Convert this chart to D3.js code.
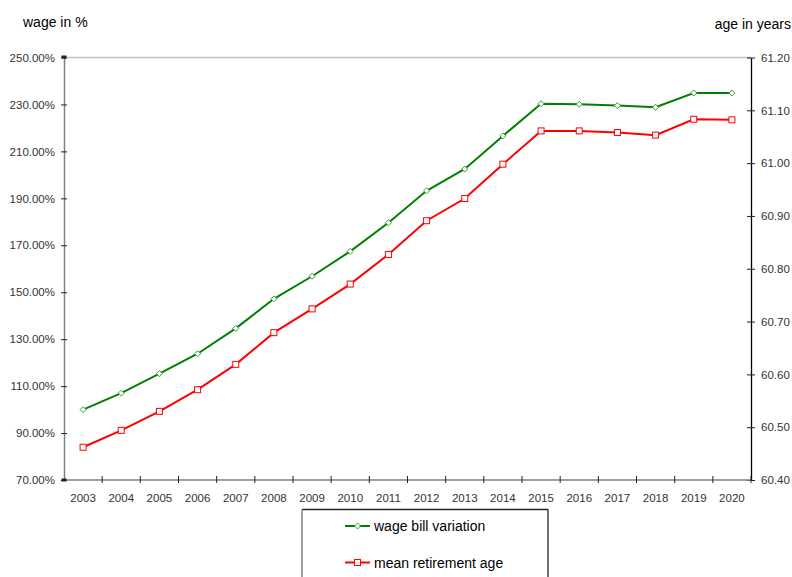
<!doctype html>
<html>
<head>
<meta charset="utf-8">
<script src="https://cdn.jsdelivr.net/npm/d3@7"></script>
<style>
  body { margin: 0; background: #fff; }
  svg { display: block; font-family: "Liberation Sans", Arial, sans-serif; }
</style>
</head>
<body>
<svg width="792" height="577"></svg>
<script>
// data
var years = ["2003","2004","2005","2006","2007","2008","2009","2010","2011","2012",
             "2013","2014","2015","2016","2017","2018","2019","2020"];
var wageBill = [100.0, 107.0, 115.3, 123.8, 134.6, 147.2, 156.8, 167.4, 179.6, 193.2,
                202.5, 216.6, 230.3, 230.1, 229.5, 228.8, 234.9, 234.9];
var retireAge = [60.462, 60.494, 60.530, 60.571, 60.619, 60.679, 60.724, 60.771, 60.827, 60.891,
                 60.933, 60.998, 61.061, 61.061, 61.058, 61.053, 61.083, 61.082];
var leftTicks = [70, 90, 110, 130, 150, 170, 190, 210, 230, 250];
var rightTicks = [60.4, 60.5, 60.6, 60.7, 60.8, 60.9, 61.0, 61.1, 61.2];

var svg = d3.select("svg");
var plotL = 64, plotR = 751, plotT = 57.5, plotB = 480;

var x = d3.scaleBand().domain(years).range([plotL, plotR]).padding(0);
var yL = d3.scaleLinear().domain([70, 250]).range([plotB, plotT]);
var yR = d3.scaleLinear().domain([60.4, 61.2]).range([plotB, plotT]);

// top gridline
svg.append("line")
   .attr("x1", plotL).attr("x2", plotR)
   .attr("y1", plotT).attr("y2", plotT)
   .attr("stroke", "#c0c0c0").attr("stroke-width", 1.5);

// left axis
var gl = svg.append("g").attr("transform", "translate(" + plotL + ",0)")
   .call(d3.axisLeft(yL).tickValues(leftTicks).tickSizeInner(3).tickSizeOuter(0)
         .tickFormat(function(d) { return d.toFixed(2) + "%"; }));
gl.select(".domain").attr("stroke", "#808080").attr("stroke-width", 1.5);
gl.selectAll(".tick line").attr("x1", 3).attr("x2", -3).attr("stroke", "#222");
gl.selectAll(".tick text").attr("x", -9).attr("fill", "#333")
   .style("font-size", "11.5px").style("font-family", "Liberation Sans, Arial, sans-serif");

// right axis
var gr = svg.append("g").attr("transform", "translate(" + plotR + ",0)")
   .call(d3.axisRight(yR).tickValues(rightTicks).tickSizeInner(4).tickSizeOuter(0)
         .tickFormat(d3.format(".2f")));
gr.select(".domain").attr("stroke", "#000").attr("stroke-width", 1.3);
gr.selectAll(".tick line").attr("x1", -4).attr("x2", 4).attr("stroke", "#222");
gr.selectAll(".tick text").attr("x", 10).attr("fill", "#333")
   .style("font-size", "11.5px").style("font-family", "Liberation Sans, Arial, sans-serif");

// bottom axis: labels at band centres, ticks at band edges
var gb = svg.append("g").attr("transform", "translate(0," + plotB + ")");
gb.append("line").attr("x1", plotL).attr("x2", plotR).attr("stroke", "#808080").attr("stroke-width", 1.5);
gb.selectAll(".xtick").data(years.slice(1).concat(["end"])).enter().append("line")
   .attr("x1", function(d) { return d === "end" ? plotR : x(d); })
   .attr("x2", function(d) { return d === "end" ? plotR : x(d); })
   .attr("y1", -4).attr("y2", 3)
   .attr("stroke", "#222");
gb.selectAll(".xlab").data(years).enter().append("text")
   .attr("x", function(d) { return x(d) + x.bandwidth() / 2; })
   .attr("y", 22)
   .attr("text-anchor", "middle")
   .attr("fill", "#333")
   .style("font-size", "11.5px")
   .text(function(d) { return d; });

// corner marks on the left axis ends
svg.append("rect").attr("x", plotL - 2.5).attr("y", plotT - 2).attr("width", 5).attr("height", 3).attr("fill", "#222");
svg.append("rect").attr("x", plotL - 2.5).attr("y", plotB - 1.5).attr("width", 5).attr("height", 3).attr("fill", "#222");

// axis titles
svg.append("text").attr("x", 23).attr("y", 27).attr("fill", "#000")
   .style("font-size", "14px").text("wage in %");
svg.append("text").attr("x", 791).attr("y", 29).attr("text-anchor", "end").attr("fill", "#000")
   .style("font-size", "14px").text("age in years");

var cx = function(i) { return x(years[i]) + x.bandwidth() / 2; };

// wage bill variation
svg.append("path")
   .datum(wageBill)
   .attr("fill", "none").attr("stroke", "#008000").attr("stroke-width", 2)
   .attr("d", d3.line().x(function(d, i) { return cx(i); }).y(function(d) { return yL(d); }));
svg.selectAll(".gm").data(wageBill).enter().append("path")
   .attr("transform", function(d, i) { return "translate(" + cx(i) + "," + yL(d) + ")"; })
   .attr("d", "M0,-3L3,0L0,3L-3,0Z")
   .attr("fill", "#fff").attr("stroke", "#3a9a3a").attr("stroke-width", 1);

// mean retirement age
svg.append("path")
   .datum(retireAge)
   .attr("fill", "none").attr("stroke", "#ff0000").attr("stroke-width", 2)
   .attr("d", d3.line().x(function(d, i) { return cx(i); }).y(function(d) { return yR(d); }));
svg.selectAll(".rm").data(retireAge).enter().append("rect")
   .attr("x", function(d, i) { return cx(i) - 3; })
   .attr("y", function(d) { return yR(d) - 3; })
   .attr("width", 6).attr("height", 6)
   .attr("fill", "#fff").attr("stroke", "#ff0000").attr("stroke-width", 1);

// legend
var lg = svg.append("g");
lg.append("line").attr("x1", 302).attr("x2", 548).attr("y1", 509.5).attr("y2", 509.5).attr("stroke", "#222").attr("stroke-width", 1.3);
lg.append("line").attr("x1", 548).attr("x2", 548).attr("y1", 509.5).attr("y2", 577).attr("stroke", "#222").attr("stroke-width", 1.3);
lg.append("line").attr("x1", 302).attr("x2", 302).attr("y1", 509.5).attr("y2", 577).attr("stroke", "#808080").attr("stroke-width", 1.5);

lg.append("line").attr("x1", 345).attr("x2", 370).attr("y1", 526).attr("y2", 526).attr("stroke", "#008000").attr("stroke-width", 2);
lg.append("path").attr("transform", "translate(357.5,526)").attr("d", "M0,-3L3,0L0,3L-3,0Z")
   .attr("fill", "#fff").attr("stroke", "#3a9a3a");
lg.append("text").attr("x", 374).attr("y", 531).style("font-size", "14px").attr("fill", "#000").text("wage bill variation");

lg.append("line").attr("x1", 345).attr("x2", 370).attr("y1", 562.5).attr("y2", 562.5).attr("stroke", "#ff0000").attr("stroke-width", 2);
lg.append("rect").attr("x", 354.5).attr("y", 559.5).attr("width", 6).attr("height", 6)
   .attr("fill", "#fff").attr("stroke", "#ff0000");
lg.append("text").attr("x", 374).attr("y", 567.5).style("font-size", "14px").attr("fill", "#000").text("mean retirement age");
</script>
</body>
</html>
